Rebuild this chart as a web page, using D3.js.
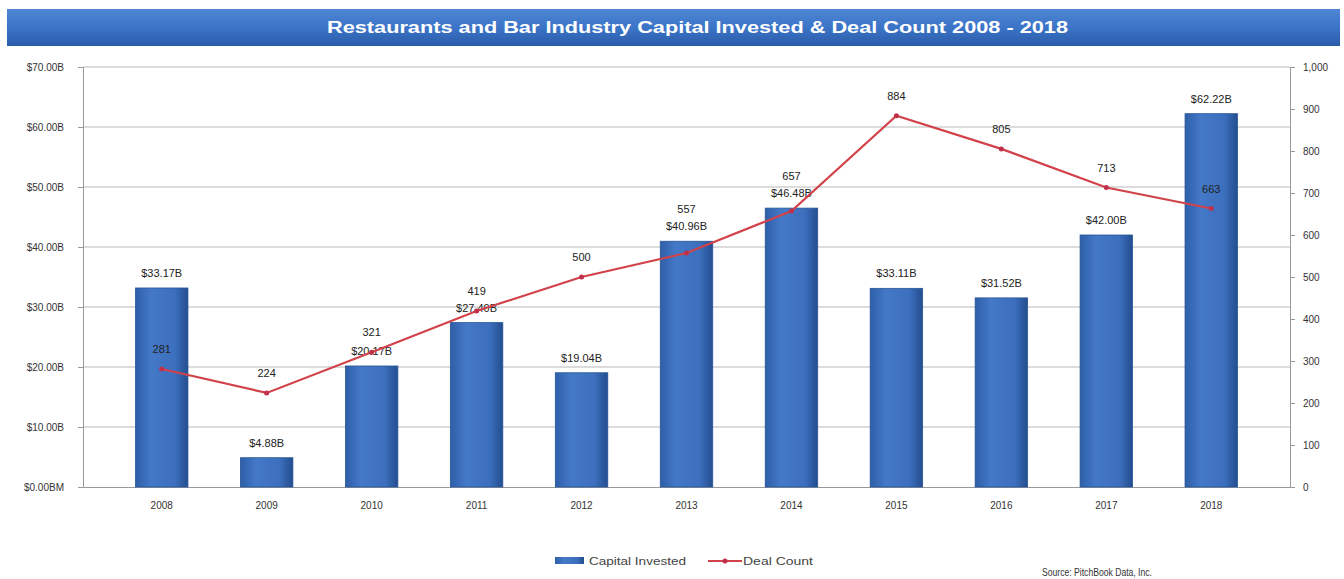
<!DOCTYPE html>
<html>
<head>
<meta charset="utf-8">
<script src="https://cdn.jsdelivr.net/npm/d3@7"></script>
<style>
  body { margin: 0; background: #fff; }
  svg { display: block; font-family: "Liberation Sans", Arial, sans-serif; }
</style>
</head>
<body>
<svg></svg>
<script>
// data
var years = ["2008","2009","2010","2011","2012","2013","2014","2015","2016","2017","2018"];
var capital = [33.17, 4.88, 20.17, 27.40, 19.04, 40.96, 46.48, 33.11, 31.52, 42.00, 62.22];
var deals = [281, 224, 321, 419, 500, 557, 657, 884, 805, 713, 663];
var leftTicks = [0, 10, 20, 30, 40, 50, 60, 70];
var rightTicks = [0, 100, 200, 300, 400, 500, 600, 700, 800, 900, 1000];

var width = 1344, height = 579;
var m = {left: 83, right: 54, top: 67, bottom: 92};

var svg = d3.select("svg").attr("width", width).attr("height", height);

var defs = svg.append("defs");
var tg = defs.append("linearGradient").attr("id", "titleGrad").attr("x1", 0).attr("y1", 0).attr("x2", 0).attr("y2", 1);
tg.append("stop").attr("offset", "0%").attr("stop-color", "#4f86d4");
tg.append("stop").attr("offset", "50%").attr("stop-color", "#3b74c8");
tg.append("stop").attr("offset", "100%").attr("stop-color", "#2b5ca8");
var bg = defs.append("linearGradient").attr("id", "barGrad").attr("x1", 0).attr("y1", 0).attr("x2", 1).attr("y2", 0);
bg.append("stop").attr("offset", "0%").attr("stop-color", "#2d5ea8");
bg.append("stop").attr("offset", "30%").attr("stop-color", "#4479c8");
bg.append("stop").attr("offset", "75%").attr("stop-color", "#3c6fbd");
bg.append("stop").attr("offset", "100%").attr("stop-color", "#234d8f");

// title bar
svg.append("rect").attr("x", 7).attr("y", 9).attr("width", 1333).attr("height", 37).attr("fill", "url(#titleGrad)");
svg.append("text").attr("x", 327).attr("y", 33)
  .attr("fill", "#fff").attr("font-weight", "bold").attr("font-size", 16)
  .attr("textLength", 741).attr("lengthAdjust", "spacingAndGlyphs")
  .text("Restaurants and Bar Industry Capital Invested & Deal Count 2008 - 2018");

var x = d3.scaleBand().domain(years).range([m.left, width - m.right]).padding(0.5);
var y = d3.scaleLinear().domain([0, 70]).range([height - m.bottom, m.top]);
var y2 = d3.scaleLinear().domain([0, 1000]).range([height - m.bottom, m.top]);
var cx = (d, i) => x(years[i]) + x.bandwidth() / 2;

// gridlines
svg.append("g").selectAll("line").data(leftTicks.slice(1)).join("line")
  .attr("x1", m.left).attr("x2", width - m.right)
  .attr("y1", d => y(d)).attr("y2", d => y(d))
  .attr("stroke", "#d0d0d0").attr("stroke-width", 1.5);

// left axis
var gl = svg.append("g").attr("transform", "translate(" + m.left + ",0)")
  .call(d3.axisLeft(y).tickValues(leftTicks).tickSize(5).tickPadding(14)
    .tickFormat(d => "$" + d.toFixed(2) + (d === 0 ? "BM" : "B")));
gl.selectAll("text").attr("font-size", 10).attr("fill", "#333");
gl.selectAll("line, path").attr("stroke", "#999");

// right axis
var gr = svg.append("g").attr("transform", "translate(" + (width - m.right) + ",0)")
  .call(d3.axisRight(y2).tickValues(rightTicks).tickSize(5).tickPadding(8)
    .tickFormat(d3.format(",")));
gr.selectAll("text").attr("font-size", 10).attr("fill", "#333");
gr.selectAll("line, path").attr("stroke", "#999");

// bottom axis
var gb = svg.append("g").attr("transform", "translate(0," + (height - m.bottom) + ")")
  .call(d3.axisBottom(x).tickSize(0).tickPadding(15));
gb.select("path").attr("stroke", "#999");
gb.selectAll("text").attr("font-size", 10).attr("fill", "#333");

// bars
svg.append("g").selectAll("rect").data(capital).join("rect")
  .attr("x", (d, i) => x(years[i]))
  .attr("y", d => y(d))
  .attr("width", x.bandwidth())
  .attr("height", d => y(0) - y(d))
  .attr("fill", "url(#barGrad)")
  .attr("stroke", "#2a5597").attr("stroke-width", 0.8);

// bar labels
var barLabelY = d => y(d) - 11;
svg.append("g").selectAll("text").data(capital).join("text")
  .attr("x", cx)
  .attr("y", barLabelY)
  .attr("text-anchor", "middle").attr("font-size", 11).attr("fill", "#222")
  .text(d => "$" + d.toFixed(2) + "B");

// deal line
var line = d3.line().x((d, i) => cx(d, i)).y(d => y2(d));
svg.append("path").datum(deals).attr("d", line)
  .attr("fill", "none").attr("stroke", "#d2424a").attr("stroke-width", 2.2);
svg.append("g").selectAll("circle").data(deals).join("circle")
  .attr("cx", cx)
  .attr("cy", d => y2(d)).attr("r", 2.5).attr("fill", "#c0304a");

// deal labels: sit above the point, lifted over the bar label when they would collide
svg.append("g").selectAll("text").data(deals).join("text")
  .attr("x", cx)
  .attr("y", (d, i) => {
    var ly = y2(d) - 16;
    var by = barLabelY(capital[i]);
    if (Math.abs(ly - by) < 16 && ly < y(capital[i])) ly = by - 17;
    return ly;
  })
  .attr("text-anchor", "middle").attr("font-size", 11).attr("fill", "#222")
  .text(d => d);

// legend
var lg = svg.append("g");
lg.append("rect").attr("x", 555).attr("y", 557).attr("width", 29).attr("height", 7).attr("fill", "url(#barGrad)");
lg.append("text").attr("x", 589).attr("y", 565).attr("font-size", 10.5).attr("fill", "#444")
  .attr("textLength", 97).attr("lengthAdjust", "spacingAndGlyphs").text("Capital Invested");
lg.append("line").attr("x1", 708).attr("x2", 742).attr("y1", 561).attr("y2", 561).attr("stroke", "#d2424a").attr("stroke-width", 2);
lg.append("circle").attr("cx", 725).attr("cy", 561).attr("r", 2.5).attr("fill", "#c0304a");
lg.append("text").attr("x", 743).attr("y", 565).attr("font-size", 10.5).attr("fill", "#444")
  .attr("textLength", 70).attr("lengthAdjust", "spacingAndGlyphs").text("Deal Count");

svg.append("text").attr("x", 1042).attr("y", 576).attr("font-size", 11).attr("fill", "#333")
  .attr("textLength", 110).attr("lengthAdjust", "spacingAndGlyphs")
  .text("Source: PitchBook Data, Inc.");
</script>
</body>
</html>
